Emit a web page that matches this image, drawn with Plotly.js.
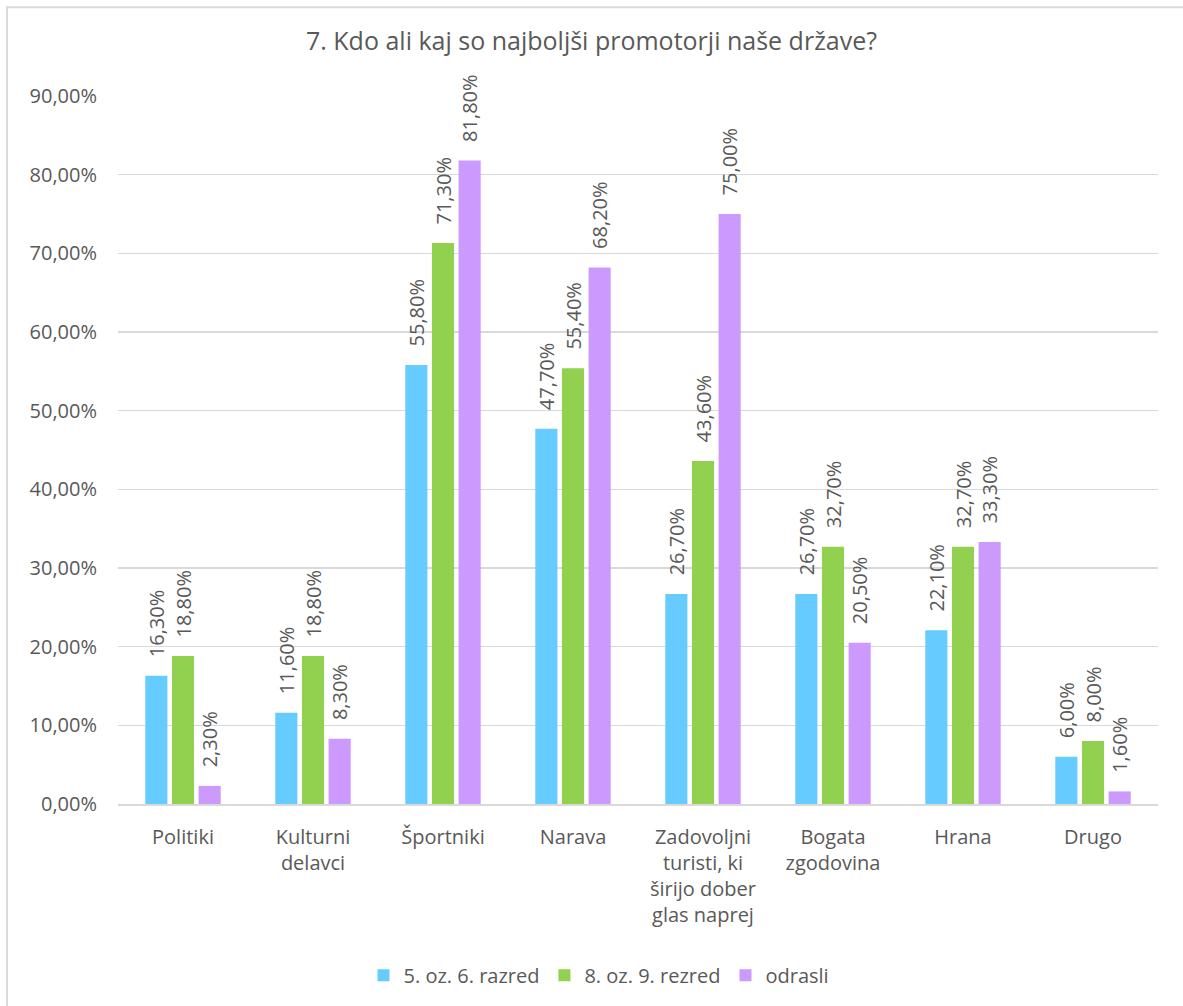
<!DOCTYPE html>
<html><head><meta charset="utf-8">
<script src="https://cdn.plot.ly/plotly-3.0.1.min.js"></script>
<style>html,body{margin:0;padding:0;background:#fff}#c{width:1183px;height:1006px}</style>
</head><body><div id="c"></div>
<script>
const categories = ["Politiki","Kulturni<br>delavci","Športniki","Narava","Zadovoljni<br>turisti, ki<br>širijo dober<br>glas naprej","Bogata<br>zgodovina","Hrana","Drugo"];
const seriesNames = ["5. oz. 6. razred","8. oz. 9. rezred","odrasli"];
const grade56 = [16.3, 11.6, 55.8, 47.7, 26.7, 26.7, 22.1, 6.0];
const grade89 = [18.8, 18.8, 71.3, 55.4, 43.6, 32.7, 32.7, 8.0];
const adults  = [2.3, 8.3, 81.8, 68.2, 75.0, 20.5, 33.3, 1.6];
const colors = ["#66ccff","#92d050","#cc99ff"];

const fmt = v => '\u00a0\u00a0\u00a0' + v.toFixed(2).replace('.', ',') + '%';
const font = "'Open Sans', 'Noto Sans', sans-serif";
const traces = [grade56, grade89, adults].map((vals, i) => ({
  type: 'bar', name: seriesNames[i], x: categories, y: vals,
  marker: {color: colors[i]},
  text: vals.map(fmt), textposition: 'outside', textangle: -90, constraintext: 'none',
  textfont: {family: font, size: 20, color: '#595959'},
  cliponaxis: false, hoverinfo: 'none'
}));

const layout = {
  width: 1183, height: 1006,
  margin: {l: 118, r: 25, t: 96, b: 201},
  paper_bgcolor: '#fff', plot_bgcolor: '#fff',
  font: {family: font, color: '#595959', size: 20},
  title: {text: '7. Kdo ali kaj so najboljši promotorji naše države?', x: 0.5, xanchor: 'center', xref: 'container', yref: 'container', y: 0.959, yanchor: 'middle', font: {size: 25, color: '#595959', family: font}},
  separators: ', ',
  barmode: 'group', bargap: 0.385, bargroupgap: 0.17,
  xaxis: {showgrid: false, showline: true, linecolor: '#d9d9d9', linewidth: 1.5, ticks: '', ticklabelstandoff: 14, tickfont: {size: 20, color: '#595959'}, fixedrange: true},
  yaxis: {range: [0, 90], dtick: 10, tickformat: '.2f', ticksuffix: '%', showgrid: true, gridcolor: '#d9d9d9', gridwidth: 1.5, zeroline: false, showline: false, ticks: '', ticklabelstandoff: 20, tickfont: {size: 20, color: '#595959'}, fixedrange: true},
  legend: {orientation: 'h', x: 0.4625, xanchor: 'center', y: -0.24, yanchor: 'middle', font: {size: 20, color: '#595959'}, traceorder: 'normal'},
  showlegend: true,
  shapes: [{type: 'rect', xref: 'paper', yref: 'paper', x0: -0.1067, x1: 1.2, y0: -0.4, y1: 1.1255, line: {color: '#d9d9d9', width: 2}, fillcolor: 'rgba(0,0,0,0)', layer: 'above'}]
};
Plotly.newPlot('c', traces, layout, {displayModeBar: false, staticPlot: true});
</script></body></html>
